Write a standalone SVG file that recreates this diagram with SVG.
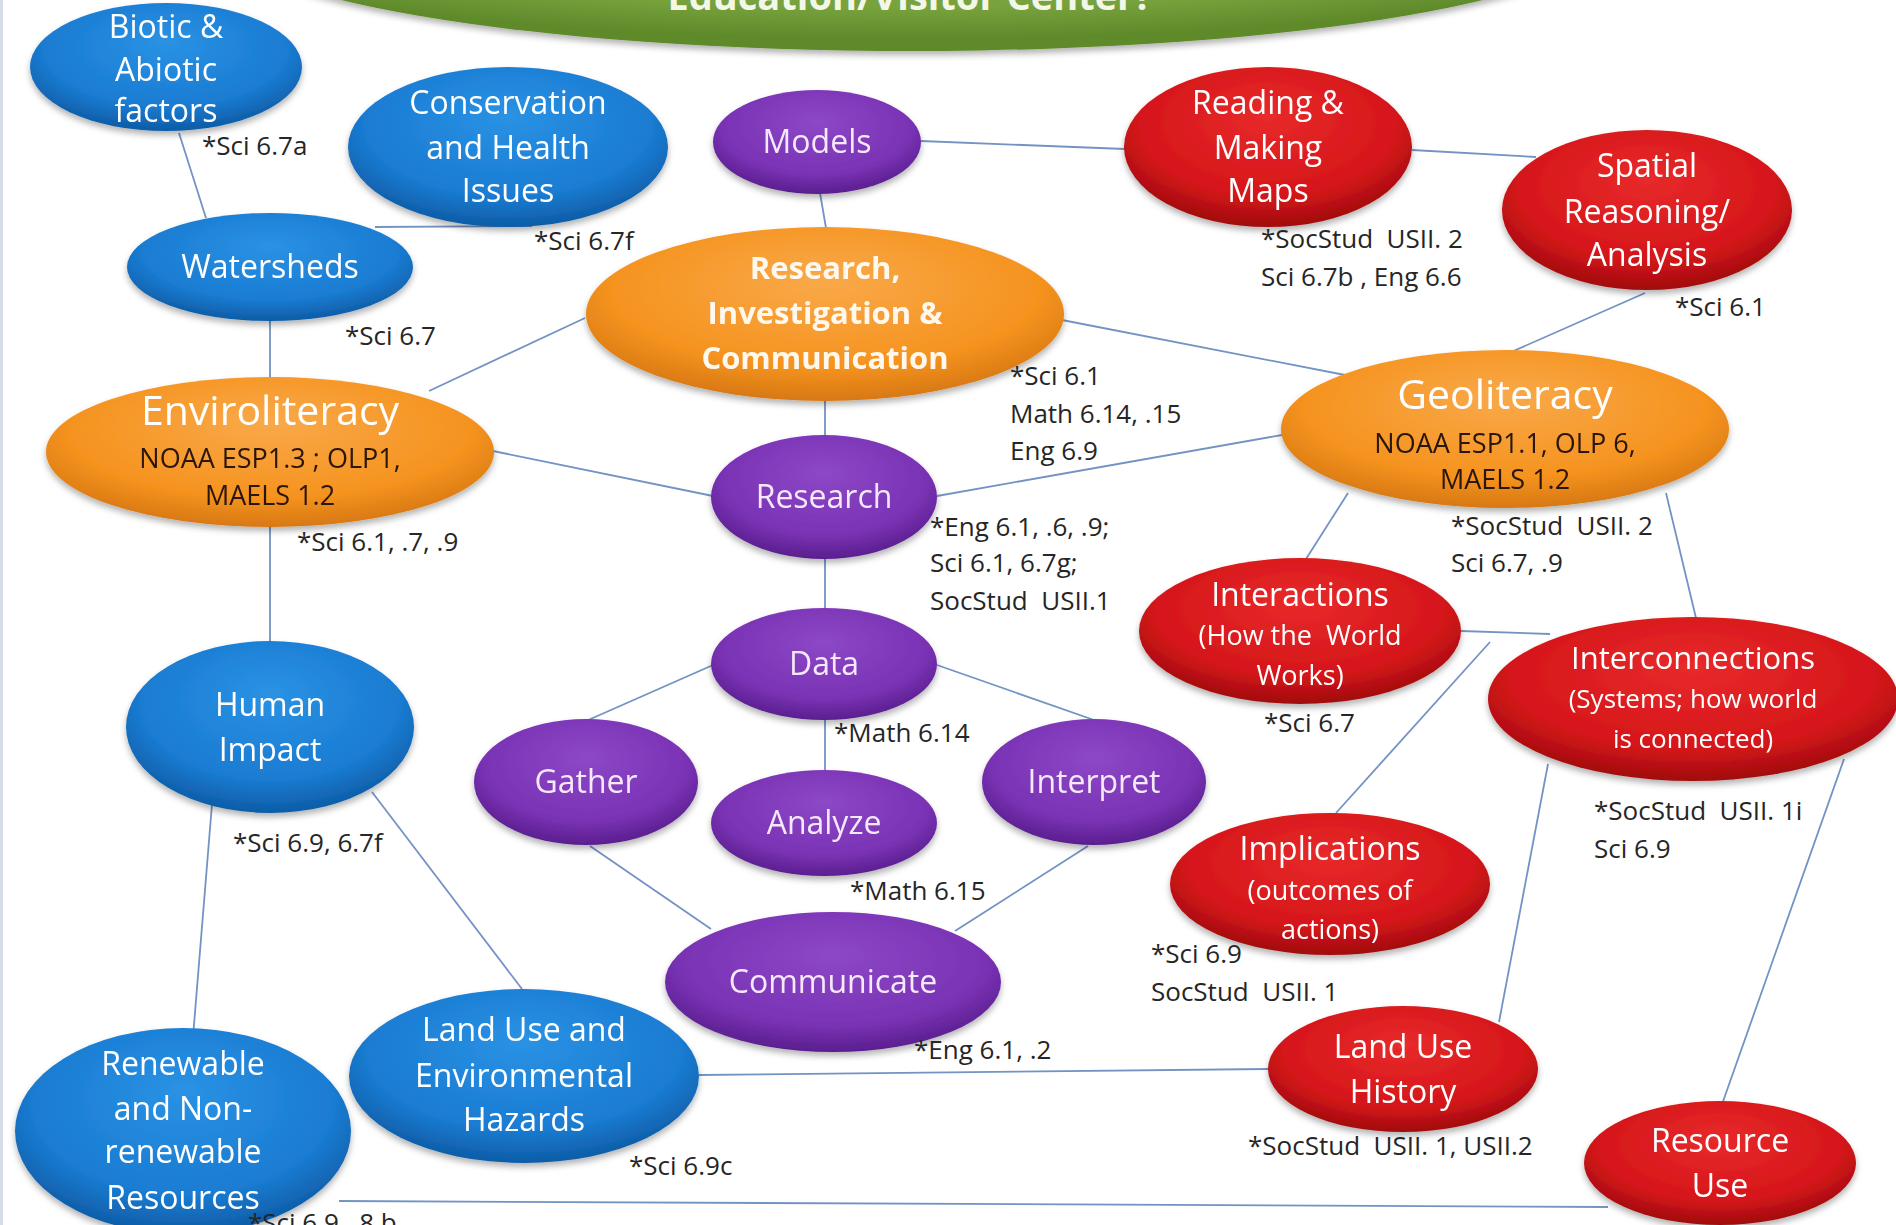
<svg xmlns="http://www.w3.org/2000/svg" width="1896" height="1225" viewBox="0 0 1896 1225">
  <defs>
    <style>
      .conn { stroke: #7393c4; stroke-width: 1.8; fill: none; }
      .nt { font-family: "Open Sans", "Liberation Sans", sans-serif; font-size: 32px; fill: #ffffff; text-anchor: middle; }
      .nb { font-family: "Open Sans", "Liberation Sans", sans-serif; font-size: 31px; font-weight: bold; fill: #fff8ee; text-anchor: middle; }
      .big { font-size: 41px; }
      .sub { font-size: 27px; }
      .dark { fill: #2a1608; }
      .pt { fill: #f6e8fb; }
      .lbl { font-family: "Open Sans", "Liberation Sans", sans-serif; font-size: 26px; fill: #262626; white-space: pre; }
    </style>
    <radialGradient id="gBlue" cx="50%" cy="38%" r="62%" fx="50%" fy="30%">
      <stop offset="0" stop-color="#2a92e4"/>
      <stop offset="0.72" stop-color="#1a7cd2"/>
      <stop offset="1" stop-color="#0e5ca6"/>
    </radialGradient>
    <radialGradient id="gPurple" cx="50%" cy="38%" r="62%" fx="50%" fy="30%">
      <stop offset="0" stop-color="#8c48c6"/>
      <stop offset="0.72" stop-color="#7a33b5"/>
      <stop offset="1" stop-color="#5a1e8e"/>
    </radialGradient>
    <radialGradient id="gRed" cx="50%" cy="38%" r="62%" fx="50%" fy="30%">
      <stop offset="0" stop-color="#e82a2a"/>
      <stop offset="0.72" stop-color="#d5161a"/>
      <stop offset="1" stop-color="#a00b0d"/>
    </radialGradient>
    <radialGradient id="gOrange" cx="50%" cy="38%" r="62%" fx="50%" fy="30%">
      <stop offset="0" stop-color="#f9a94a"/>
      <stop offset="0.72" stop-color="#f5931f"/>
      <stop offset="1" stop-color="#d77812"/>
    </radialGradient>
    <radialGradient id="gGreen" cx="50%" cy="30%" r="65%">
      <stop offset="0" stop-color="#84ad48"/>
      <stop offset="0.8" stop-color="#77a23c"/>
      <stop offset="1" stop-color="#5f8a2b"/>
    </radialGradient>
    <filter id="sh" x="-10%" y="-15%" width="120%" height="135%">
      <feGaussianBlur in="SourceAlpha" stdDeviation="3"/>
      <feOffset dy="4" result="b"/>
      <feFlood flood-color="#000" flood-opacity="0.3"/>
      <feComposite in2="b" operator="in"/>
      <feMerge><feMergeNode/><feMergeNode in="SourceGraphic"/></feMerge>
    </filter>
  </defs>

  <rect x="0" y="0" width="1896" height="1225" fill="#ffffff"/>
  <rect x="0" y="0" width="3" height="1225" fill="#d3dce8"/>

  <!-- connectors -->
  <g id="connectors">
    <line class="conn" x1="179" y1="133" x2="206" y2="218"/>
    <line class="conn" x1="375" y1="227" x2="532" y2="226"/>
    <line class="conn" x1="270" y1="320" x2="270" y2="378"/>
    <line class="conn" x1="429" y1="391" x2="585" y2="318"/>
    <line class="conn" x1="820" y1="193" x2="826" y2="228"/>
    <line class="conn" x1="921" y1="141" x2="1125" y2="149"/>
    <line class="conn" x1="1412" y1="150" x2="1536" y2="157"/>
    <line class="conn" x1="1062" y1="320" x2="1345" y2="375"/>
    <line class="conn" x1="1645" y1="293" x2="1509" y2="353"/>
    <line class="conn" x1="825" y1="400" x2="825" y2="436"/>
    <line class="conn" x1="493" y1="451" x2="713" y2="496"/>
    <line class="conn" x1="937" y1="496" x2="1282" y2="435"/>
    <line class="conn" x1="825" y1="558" x2="825" y2="609"/>
    <line class="conn" x1="270" y1="527" x2="270" y2="642"/>
    <line class="conn" x1="713" y1="665" x2="586" y2="721"/>
    <line class="conn" x1="937" y1="665" x2="1094" y2="720"/>
    <line class="conn" x1="825" y1="719" x2="825" y2="771"/>
    <line class="conn" x1="590" y1="846" x2="711" y2="929"/>
    <line class="conn" x1="1088" y1="846" x2="955" y2="931"/>
    <line class="conn" x1="1348" y1="493" x2="1306" y2="559"/>
    <line class="conn" x1="1666" y1="493" x2="1696" y2="618"/>
    <line class="conn" x1="1461" y1="631" x2="1550" y2="634"/>
    <line class="conn" x1="1336" y1="813" x2="1490" y2="642"/>
    <line class="conn" x1="212" y1="804" x2="193" y2="1037"/>
    <line class="conn" x1="372" y1="792" x2="522" y2="989"/>
    <line class="conn" x1="699" y1="1075" x2="1268" y2="1069"/>
    <line class="conn" x1="1548" y1="764" x2="1499" y2="1022"/>
    <line class="conn" x1="1844" y1="759" x2="1720" y2="1110"/>
    <line class="conn" x1="339" y1="1201" x2="1608" y2="1207" stroke-width="2.4"/>
  </g>

  <!-- header banner -->
  <g id="title">
    <ellipse cx="912" cy="-70" rx="700" ry="121" fill="url(#gGreen)" filter="url(#sh)"/>
    <text x="910" y="10" class="nb" style="font-size:38px;fill:#f2f7e8">Education/Visitor Center?</text>
  </g>

  <!-- blue topic nodes -->
  <g id="biotic" filter="url(#sh)">
    <ellipse cx="166" cy="67" rx="136" ry="64" fill="url(#gBlue)"/>
    <text class="nt" x="166" y="38">Biotic &amp;</text>
    <text class="nt" x="166" y="81">Abiotic</text>
    <text class="nt" x="166" y="122">factors</text>
  </g>
  <g id="conservation" filter="url(#sh)">
    <ellipse cx="508" cy="147" rx="160" ry="80" fill="url(#gBlue)"/>
    <text class="nt" x="508" y="114">Conservation</text>
    <text class="nt" x="508" y="159">and Health</text>
    <text class="nt" x="508" y="202">Issues</text>
  </g>
  <g id="watersheds" filter="url(#sh)">
    <ellipse cx="270" cy="267" rx="143" ry="54" fill="url(#gBlue)"/>
    <text class="nt" x="270" y="278">Watersheds</text>
  </g>
  <g id="human-impact" filter="url(#sh)">
    <ellipse cx="270" cy="727" rx="144" ry="86" fill="url(#gBlue)"/>
    <text class="nt" x="270" y="716">Human</text>
    <text class="nt" x="270" y="761">Impact</text>
  </g>
  <g id="land-use-hazards" filter="url(#sh)">
    <ellipse cx="524" cy="1076" rx="175" ry="87" fill="url(#gBlue)"/>
    <text class="nt" x="524" y="1041">Land Use and</text>
    <text class="nt" x="524" y="1087">Environmental</text>
    <text class="nt" x="524" y="1131">Hazards</text>
  </g>
  <g id="renewable" filter="url(#sh)">
    <ellipse cx="183" cy="1131" rx="168" ry="103" fill="url(#gBlue)"/>
    <text class="nt" x="183" y="1075">Renewable</text>
    <text class="nt" x="183" y="1120">and Non-</text>
    <text class="nt" x="183" y="1163">renewable</text>
    <text class="nt" x="183" y="1209">Resources</text>
  </g>

  <!-- orange literacy nodes -->
  <g id="research-investigation" filter="url(#sh)">
    <ellipse cx="825" cy="314" rx="239" ry="87" fill="url(#gOrange)"/>
    <text class="nb" x="825" y="279">Research,</text>
    <text class="nb" x="825" y="324">Investigation &amp;</text>
    <text class="nb" x="825" y="369">Communication</text>
  </g>
  <g id="enviroliteracy" filter="url(#sh)">
    <ellipse cx="270" cy="452" rx="224" ry="75" fill="url(#gOrange)"/>
    <text class="nt big" x="270" y="425">Enviroliteracy</text>
    <text class="nt sub dark" x="270" y="468">NOAA ESP1.3 ; OLP1,</text>
    <text class="nt sub dark" x="270" y="505">MAELS 1.2</text>
  </g>
  <g id="geoliteracy" filter="url(#sh)">
    <ellipse cx="1505" cy="429" rx="224" ry="79" fill="url(#gOrange)"/>
    <text class="nt big" x="1505" y="409">Geoliteracy</text>
    <text class="nt sub dark" x="1505" y="453">NOAA ESP1.1, OLP 6,</text>
    <text class="nt sub dark" x="1505" y="489">MAELS 1.2</text>
  </g>

  <!-- purple process nodes -->
  <g id="models" filter="url(#sh)">
    <ellipse cx="817" cy="142" rx="104" ry="52" fill="url(#gPurple)"/>
    <text class="nt pt" x="817" y="153">Models</text>
  </g>
  <g id="research" filter="url(#sh)">
    <ellipse cx="824" cy="497" rx="113" ry="62" fill="url(#gPurple)"/>
    <text class="nt pt" x="824" y="508">Research</text>
  </g>
  <g id="data" filter="url(#sh)">
    <ellipse cx="824" cy="664" rx="113" ry="56" fill="url(#gPurple)"/>
    <text class="nt pt" x="824" y="675">Data</text>
  </g>
  <g id="gather" filter="url(#sh)">
    <ellipse cx="586" cy="782" rx="112" ry="63" fill="url(#gPurple)"/>
    <text class="nt pt" x="586" y="793">Gather</text>
  </g>
  <g id="analyze" filter="url(#sh)">
    <ellipse cx="824" cy="823" rx="113" ry="53" fill="url(#gPurple)"/>
    <text class="nt pt" x="824" y="834">Analyze</text>
  </g>
  <g id="interpret" filter="url(#sh)">
    <ellipse cx="1094" cy="782" rx="112" ry="63" fill="url(#gPurple)"/>
    <text class="nt pt" x="1094" y="793">Interpret</text>
  </g>
  <g id="communicate" filter="url(#sh)">
    <ellipse cx="833" cy="982" rx="168" ry="70" fill="url(#gPurple)"/>
    <text class="nt pt" x="833" y="993">Communicate</text>
  </g>

  <!-- red geography nodes -->
  <g id="maps" filter="url(#sh)">
    <ellipse cx="1268" cy="147" rx="144" ry="80" fill="url(#gRed)"/>
    <text class="nt" x="1268" y="114">Reading &amp;</text>
    <text class="nt" x="1268" y="159">Making</text>
    <text class="nt" x="1268" y="202">Maps</text>
  </g>
  <g id="spatial" filter="url(#sh)">
    <ellipse cx="1647" cy="210" rx="145" ry="80" fill="url(#gRed)"/>
    <text class="nt" x="1647" y="177">Spatial</text>
    <text class="nt" x="1647" y="223">Reasoning/</text>
    <text class="nt" x="1647" y="266">Analysis</text>
  </g>
  <g id="interactions" filter="url(#sh)">
    <ellipse cx="1300" cy="631" rx="161" ry="73" fill="url(#gRed)"/>
    <text class="nt" x="1300" y="606">Interactions</text>
    <text class="nt sub" x="1300" y="645" xml:space="preserve">(How the  World</text>
    <text class="nt sub" x="1300" y="685">Works)</text>
  </g>
  <g id="interconnections" filter="url(#sh)">
    <ellipse cx="1693" cy="699" rx="205" ry="82" fill="url(#gRed)"/>
    <text class="nt" x="1693" y="669" style="font-size:31px">Interconnections</text>
    <text class="nt" x="1693" y="708" style="font-size:26px">(Systems; how world</text>
    <text class="nt" x="1693" y="748" style="font-size:26px">is connected)</text>
  </g>
  <g id="implications" filter="url(#sh)">
    <ellipse cx="1330" cy="884" rx="160" ry="71" fill="url(#gRed)"/>
    <text class="nt" x="1330" y="860">Implications</text>
    <text class="nt sub" x="1330" y="900">(outcomes of</text>
    <text class="nt sub" x="1330" y="939">actions)</text>
  </g>
  <g id="land-use-history" filter="url(#sh)">
    <ellipse cx="1403" cy="1069" rx="135" ry="63" fill="url(#gRed)"/>
    <text class="nt" x="1403" y="1058">Land Use</text>
    <text class="nt" x="1403" y="1103">History</text>
  </g>
  <g id="resource-use" filter="url(#sh)">
    <ellipse cx="1720" cy="1163" rx="136" ry="62" fill="url(#gRed)"/>
    <text class="nt" x="1720" y="1152">Resource</text>
    <text class="nt" x="1720" y="1197">Use</text>
  </g>

  <!-- standards references -->
  <g id="standards">
    <text class="lbl" x="202" y="155">*Sci 6.7a</text>
    <text class="lbl" x="534" y="250">*Sci 6.7f</text>
    <text class="lbl" x="345" y="345">*Sci 6.7</text>
    <text class="lbl" x="1010" y="385">*Sci 6.1</text>
    <text class="lbl" x="1010" y="423">Math 6.14, .15</text>
    <text class="lbl" x="1010" y="460">Eng 6.9</text>
    <text class="lbl" x="1261" y="248">*SocStud  USII. 2</text>
    <text class="lbl" x="1261" y="286">Sci 6.7b , Eng 6.6</text>
    <text class="lbl" x="1675" y="316">*Sci 6.1</text>
    <text class="lbl" x="297" y="551">*Sci 6.1, .7, .9</text>
    <text class="lbl" x="930" y="536">*Eng 6.1, .6, .9;</text>
    <text class="lbl" x="930" y="572">Sci 6.1, 6.7g;</text>
    <text class="lbl" x="930" y="610">SocStud  USII.1</text>
    <text class="lbl" x="1451" y="535">*SocStud  USII. 2</text>
    <text class="lbl" x="1451" y="572">Sci 6.7, .9</text>
    <text class="lbl" x="1264" y="732">*Sci 6.7</text>
    <text class="lbl" x="834" y="742">*Math 6.14</text>
    <text class="lbl" x="1594" y="820">*SocStud  USII. 1i</text>
    <text class="lbl" x="1594" y="858">Sci 6.9</text>
    <text class="lbl" x="233" y="852">*Sci 6.9, 6.7f</text>
    <text class="lbl" x="850" y="900">*Math 6.15</text>
    <text class="lbl" x="1151" y="963">*Sci 6.9</text>
    <text class="lbl" x="1151" y="1001">SocStud  USII. 1</text>
    <text class="lbl" x="914" y="1059">*Eng 6.1, .2</text>
    <text class="lbl" x="629" y="1175">*Sci 6.9c</text>
    <text class="lbl" x="1248" y="1155">*SocStud  USII. 1, USII.2</text>
    <text class="lbl" x="248" y="1232">*Sci 6.9, .8 b</text>
  </g>
</svg>
